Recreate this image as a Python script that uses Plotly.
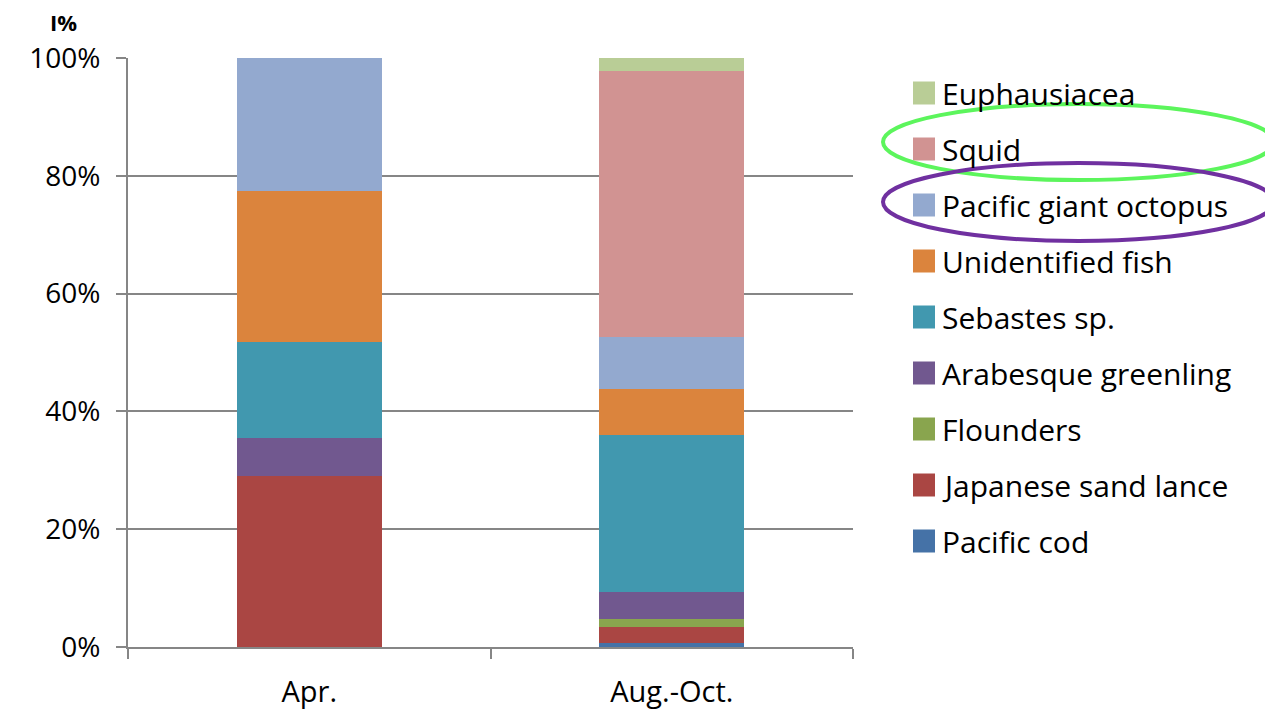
import plotly.graph_objects as go

# Diet composition (%)
periods = ['Apr.', 'Aug.-Oct.']
prey = ['Pacific cod', 'Japanese sand lance', 'Flounders', 'Arabesque greenling',
        'Sebastes sp.', 'Unidentified fish', 'Pacific giant octopus', 'Squid', 'Euphausiacea']
pacific_cod = [0.0, 0.7]
sand_lance = [29.1, 2.7]
flounders = [0.0, 1.4]
greenling = [6.3, 4.5]
sebastes = [16.3, 26.7]
unident_fish = [25.8, 7.8]
octopus = [22.5, 8.8]
squid = [0.0, 45.2]
euphausiacea = [0.0, 2.2]
series = [pacific_cod, sand_lance, flounders, greenling, sebastes,
          unident_fish, octopus, squid, euphausiacea]

colors = ['#4572A7', '#AA4643', '#89A54E', '#71588F', '#4198AF',
          '#DB843D', '#93A9CF', '#D19392', '#B9CD96']

FONT = 'Open Sans'
OFF = 8                                   # page body margin
W, H = 1273 - OFF, 714 - OFF
L, R, T, B = 128 - OFF, 853 - OFF, 58 - OFF, 647 - OFF   # plot area (figure px)


def px(x):  # screen px -> paper
    return (x - OFF - L) / (R - L)


def py(y):
    return (B - (y - OFF)) / (B - T)


fig = go.Figure()
for name, vals, c in zip(prey, series, colors):
    fig.add_trace(go.Bar(x=periods, y=vals, name=name, marker_color=c,
                         marker_line_width=0, showlegend=False))

fig.update_layout(
    barmode='stack', bargap=0.6,
    width=W, height=H,
    margin=dict(l=L, r=W - R, t=T, b=H - B, pad=0, autoexpand=False),
    paper_bgcolor='white', plot_bgcolor='white',
    font=dict(family=FONT, size=28, color='black'),
)
fig.update_yaxes(range=[0, 100], dtick=20, ticksuffix='%', automargin=False,
                 showgrid=True, gridcolor='#868686', gridwidth=2,
                 showline=True, linecolor='#868686', linewidth=2,
                 ticks='outside', ticklen=10, tickwidth=2, tickcolor='#868686',
                 ticklabelstandoff=10, zeroline=False)
fig.update_xaxes(showline=True, linecolor='#868686', linewidth=2, automargin=False,
                 ticks='outside', ticklen=10, tickwidth=2, tickcolor='#868686',
                 tickson='boundaries', ticklabelstandoff=18, showgrid=False,
                 tickfont=dict(size=29))

shapes = []
annotations = []
# legend drawn by hand (top item = last series)
for i, (name, c) in enumerate(zip(prey[::-1], colors[::-1])):
    yc = 93 + 56 * i
    shapes.append(dict(type='rect', xref='paper', yref='paper',
                       x0=px(913), x1=px(935), y0=py(yc + 11.5), y1=py(yc - 11.5),
                       fillcolor=c, line_width=0))
    annotations.append(dict(text=name, xref='paper', yref='paper', x=px(940), y=py(yc),
                            xanchor='left', yanchor='middle', showarrow=False,
                            font=dict(family=FONT, size=30, color='black')))

# highlight ellipses
shapes.append(dict(type='circle', xref='paper', yref='paper',
                   x0=px(883), x1=px(1274), y0=py(180), y1=py(104),
                   line=dict(color='#5CF55C', width=4)))
shapes.append(dict(type='circle', xref='paper', yref='paper',
                   x0=px(883), x1=px(1274), y0=py(241), y1=py(163),
                   line=dict(color='#7030A0', width=4)))

annotations.append(dict(text='<b>I%</b>', xref='paper', yref='paper', x=px(63), y=py(22),
                        xanchor='center', yanchor='middle', showarrow=False,
                        font=dict(family=FONT, size=22, color='black')))

fig.update_layout(shapes=shapes, annotations=annotations)

fig.write_html('out.html')
